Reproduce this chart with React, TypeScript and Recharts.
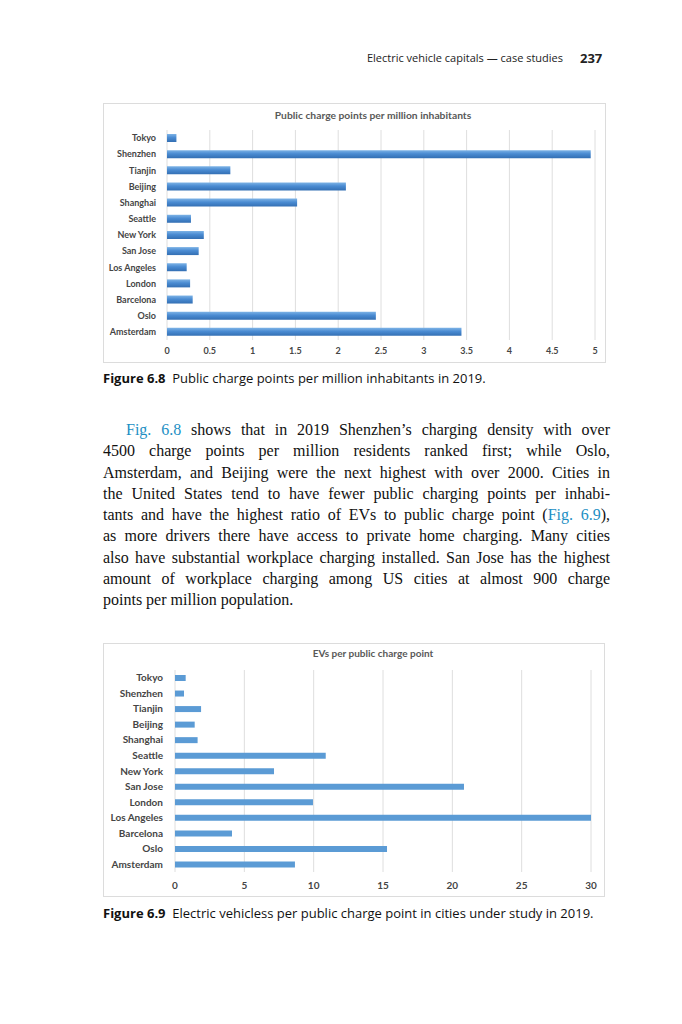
import { BarChart, Bar, XAxis, YAxis, CartesianGrid } from 'recharts';

const cities = ['Tokyo', 'Shenzhen', 'Tianjin', 'Beijing', 'Shanghai', 'Seattle', 'New York', 'San Jose', 'Los Angeles', 'London', 'Barcelona', 'Oslo', 'Amsterdam'];
const chargePoints = [0.11, 4.95, 0.74, 2.09, 1.52, 0.28, 0.43, 0.37, 0.23, 0.27, 0.3, 2.44, 3.44];
const chargeTicks = [0, 0.5, 1, 1.5, 2, 2.5, 3, 3.5, 4, 4.5, 5];

const cities2 = ['Tokyo', 'Shenzhen', 'Tianjin', 'Beijing', 'Shanghai', 'Seattle', 'New York', 'San Jose', 'London', 'Los Angeles', 'Barcelona', 'Oslo', 'Amsterdam'];
const evsPerPoint = [0.77, 0.65, 1.88, 1.42, 1.63, 10.87, 7.14, 20.84, 9.95, 30, 4.11, 15.29, 8.65];
const evTicks = [0, 5, 10, 15, 20, 25, 30];

const data1 = cities.map((city, i) => ({ city, value: chargePoints[i] }));
const data2 = cities2.map((city, i) => ({ city, value: evsPerPoint[i] }));

const chartFont = 'Lato, sans-serif';
const tickStyle = { fill: '#454545', fontSize: 9, fontWeight: 700, fontFamily: chartFont };
const sans = '"Open Sans", sans-serif';
const serif = '"Liberation Serif", serif';
const link = '#1d8fc4';

// plain text tick so long city names never wrap
const cityTick = (size: number) => (props: any) => (
  <text x={props.x} y={props.y} dy="0.355em" textAnchor="end" fill={tickStyle.fill} fontSize={size} fontWeight={700} fontFamily={chartFont}>
    {props.payload.value}
  </text>
);

const bodyLines: { text: React.ReactNode; last?: boolean; indent?: boolean }[] = [
  { text: <><span style={{ color: link }}>Fig. 6.8</span> shows that in 2019 Shenzhen’s charging density with over</>, indent: true },
  { text: '4500 charge points per million residents ranked first; while Oslo,' },
  { text: 'Amsterdam, and Beijing were the next highest with over 2000. Cities in' },
  { text: 'the United States tend to have fewer public charging points per inhabi-' },
  { text: <>tants and have the highest ratio of EVs to public charge point (<span style={{ color: link }}>Fig. 6.9</span>),</> },
  { text: 'as more drivers there have access to private home charging. Many cities' },
  { text: 'also have substantial workplace charging installed. San Jose has the highest' },
  { text: 'amount of workplace charging among US cities at almost 900 charge' },
  { text: 'points per million population.', last: true },
];

const abs = (left: number, top: number, extra: React.CSSProperties = {}): React.CSSProperties => ({ position: 'absolute', left, top, ...extra });

export default function App() {
  return (
    <div style={{ position: 'absolute', left: 0, top: 0, width: 682, height: 1024, background: '#fff', overflow: 'hidden' }}>
      {/* running header */}
      <div style={abs(300, 50, { width: 263, textAlign: 'right', fontFamily: sans, fontSize: 11, color: '#222' })}>
        Electric vehicle capitals — case studies
      </div>
      <div style={abs(580, 49, { fontFamily: sans, fontSize: 13, fontWeight: 700, color: '#222' })}>237</div>

      {/* figure 6.8 */}
      <div style={abs(103, 103, { width: 501, height: 258, border: '1px solid #dcdcdc' })} />
      <div style={abs(173, 109, { width: 400, textAlign: 'center', fontFamily: chartFont, fontSize: 10.3, fontWeight: 700, color: '#595959' })}>
        Public charge points per million inhabitants
      </div>
      <div style={abs(103, 103)}>
        <BarChart width={503} height={260} data={data1} layout="vertical" margin={{ top: 27, right: 11, bottom: 0, left: 0 }} barCategoryGap={0}>
          <defs>
            <linearGradient id="barGrad" x1="0" y1="0" x2="0" y2="1">
              <stop offset="0%" stopColor="#7db3e6" />
              <stop offset="45%" stopColor="#4a8bd2" />
              <stop offset="100%" stopColor="#336fb3" />
            </linearGradient>
          </defs>
          <CartesianGrid horizontal={false} stroke="#dedede" />
          <XAxis type="number" domain={[0, 5]} ticks={chargeTicks} height={23} axisLine={false} tickLine={false} tick={tickStyle} interval={0} />
          <YAxis type="category" dataKey="city" width={64} axisLine={false} tickLine={false} tickMargin={5} tick={cityTick(9)} interval={0} />
          <Bar dataKey="value" fill="url(#barGrad)" barSize={8} isAnimationActive={false} />
        </BarChart>
      </div>
      <div style={abs(103, 369, { fontFamily: sans, fontSize: 13, color: '#111' })}>
        <b>Figure 6.8</b>&nbsp; Public charge points per million inhabitants in 2019.
      </div>

      {/* body text */}
      <div style={abs(103, 419, { width: 507, fontFamily: serif, fontSize: 16, lineHeight: '21.3px', color: '#111' })}>
        {bodyLines.map((l, i) => (
          <div key={i} style={{ textAlign: l.last ? 'left' : 'justify', textAlignLast: l.last ? 'left' : 'justify', paddingLeft: l.indent ? 23 : 0, whiteSpace: 'nowrap' }}>
            {l.text}
          </div>
        ))}
      </div>

      {/* figure 6.9 */}
      <div style={abs(103, 643, { width: 500, height: 252, border: '1px solid #dcdcdc' })} />
      <div style={abs(223, 647, { width: 300, textAlign: 'center', fontFamily: chartFont, fontSize: 10, fontWeight: 700, color: '#595959' })}>
        EVs per public charge point
      </div>
      <div style={abs(103, 643)}>
        <BarChart width={502} height={254} data={data2} layout="vertical" margin={{ top: 27, right: 14, bottom: 0, left: 0 }} barCategoryGap={0}>
          <CartesianGrid horizontal={false} stroke="#dedede" />
          <XAxis type="number" domain={[0, 30]} ticks={evTicks} height={25} axisLine={false} tickLine={false} tickMargin={4} tick={{ ...tickStyle, fontSize: 10 }} interval={0} />
          <YAxis type="category" dataKey="city" width={72} axisLine={false} tickLine={false} tickMargin={6} tick={cityTick(10)} interval={0} />
          <Bar dataKey="value" fill="#5b9bd5" barSize={6} isAnimationActive={false} />
        </BarChart>
      </div>
      <div style={abs(103, 904, { fontFamily: sans, fontSize: 13, color: '#111' })}>
        <b>Figure 6.9</b>&nbsp; Electric vehicless per public charge point in cities under study in 2019.
      </div>
    </div>
  );
}
